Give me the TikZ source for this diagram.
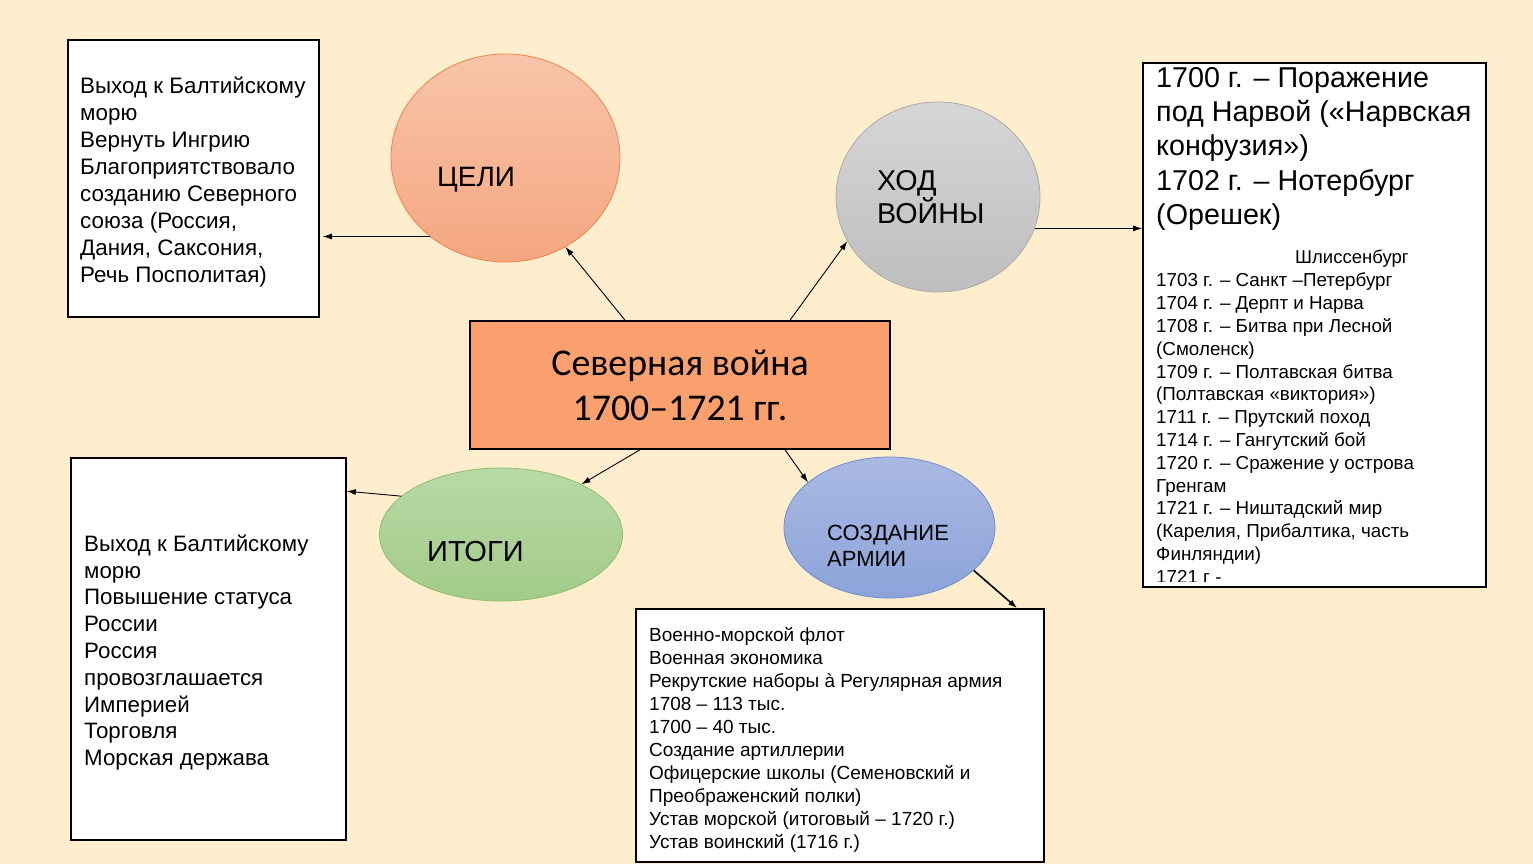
\documentclass[tikz,border=0pt]{standalone}
\usepackage{fontspec}
\setmainfont{Liberation Sans}
\newfontfamily\carlito{Carlito}
\usetikzlibrary{shapes.geometric,arrows.meta}
\definecolor{bg}{RGB}{255,238,206}
\definecolor{celiT}{RGB}{248,196,170}
\definecolor{celiB}{RGB}{245,166,128}
\definecolor{celiD}{RGB}{240,130,70}
\definecolor{hodT}{RGB}{214,214,214}
\definecolor{hodB}{RGB}{190,190,190}
\definecolor{hodD}{RGB}{170,170,170}
\definecolor{itT}{RGB}{184,217,166}
\definecolor{itB}{RGB}{162,203,137}
\definecolor{itD}{RGB}{140,190,110}
\definecolor{szT}{RGB}{170,185,226}
\definecolor{szB}{RGB}{140,163,218}
\definecolor{szD}{RGB}{110,140,210}
\definecolor{mainF}{RGB}{250,160,110}
\newcommand\setfs[2]{\fontsize{#1pt}{#2pt}\selectfont}
\begin{document}
\begin{tikzpicture}[x=1pt,y=-1pt,
  textbox/.style={draw=black,line width=1.6pt,fill=white,inner sep=0pt},
  ell/.style={ellipse,inner sep=0pt,line width=0.8pt},
  txt/.style={anchor=north west,inner sep=0pt,align=left},
  arr/.style={-{Latex[length=9pt,width=6pt]},line width=0.9pt,black}]
\useasboundingbox (0,0) rectangle (1533,864);
\fill[bg] (0,0) rectangle (1533,864);

% boxes
\node[textbox,minimum width=251pt,minimum height=277pt] (box1) at (193.5,178.5) {};
\node[textbox,minimum width=343pt,minimum height=524pt] (box2) at (1314.5,325) {};
\node[textbox,minimum width=275pt,minimum height=382pt] (box3) at (208.5,649) {};
\node[textbox,minimum width=408pt,minimum height=253pt] (box4) at (840,735.5) {};

% main box
\node[draw=black,line width=1.6pt,fill=mainF,minimum width=420pt,minimum height=128pt,
  align=center,inner sep=0pt,font=\carlito\setfs{37.8}{45}] (main) at (680,385)
  {Северная война\\1700–1721 гг.};

% ellipses
\node[ell,minimum width=229pt,minimum height=208pt,top color=celiT,bottom color=celiB,draw=celiD] (celi) at (505.5,158) {};
\node[ell,minimum width=204pt,minimum height=190pt,top color=hodT,bottom color=hodB,draw=hodD] (hod) at (938,197) {};
\node[ell,minimum width=243pt,minimum height=133pt,top color=itT,bottom color=itB,draw=itD] (itogi) at (501,534.5) {};
\node[ell,minimum width=211pt,minimum height=141pt,top color=szT,bottom color=szB,draw=szD] (sozd) at (889.5,527.5) {};

% ellipse labels
\node[txt,font=\setfs{28}{33.3}] (celiT) at (437,158.7) {\rule{0pt}{1em}ЦЕЛИ};
\node[txt,font=\setfs{28.7}{33.3}] (hodT) at (877,161.5) {\rule{0pt}{1em}ХОД\\ВОЙНЫ};
\node[txt,font=\setfs{29}{33}] (itogiT) at (427,532.3) {\rule{0pt}{1em}ИТОГИ};
\node[txt,font=\setfs{22}{26.7}] (sozdT) at (827,518) {\rule{0pt}{1em}СОЗДАНИЕ\\АРМИИ};

% box texts
\node[txt,font=\setfs{22.4}{27}] (box1T) at (80,70.6) {\rule{0pt}{1em}Выход к Балтийскому\\морю\\Вернуть Ингрию\\Благоприятствовало\\созданию Северного\\союза (Россия,\\Дания, Саксония,\\Речь Посполитая)};

\node[txt,font=\setfs{22.3}{26.8}] (box3T) at (84,528.7) {\rule{0pt}{1em}Выход к Балтийскому\\морю\\Повышение статуса\\России\\Россия\\провозглашается\\Империей\\Торговля\\Морская держава};

\node[txt,font=\setfs{19}{23}] (box4T) at (649,621.8) {\rule{0pt}{1em}Военно-морской флот\\Военная экономика\\Рекрутские наборы à Регулярная армия\\1708 – 113 тыс.\\1700 – 40 тыс.\\Создание артиллерии\\Офицерские школы (Семеновский и\\Преображенский полки)\\Устав морской (итоговый – 1720 г.)\\Устав воинский (1716 г.)};

\begin{scope}
\clip ([xshift=1pt,yshift=6pt]box2.south west) rectangle ([xshift=-1pt,yshift=-1pt]box2.north east);
\node[txt,font=\setfs{28.7}{34.3}] (box2A) at (1156,58.3) {\rule{0pt}{1em}1700 г. – Поражение\\под Нарвой («Нарвская\\конфузия»)\\1702 г. – Нотербург\\(Орешек)};
\node[txt,font=\setfs{18.5}{22.8}] (box2B) at (1295,244.5) {\rule{0pt}{1em}Шлиссенбург};
\node[txt,font=\setfs{18.8}{22.8}] (box2C) at (1156,267.9) {\rule{0pt}{1em}1703 г. – Санкт –Петербург\\1704 г. – Дерпт и Нарва\\1708 г. – Битва при Лесной\\(Смоленск)\\1709 г. – Полтавская битва\\(Полтавская «виктория»)\\1711 г. – Прутский поход\\1714 г. – Гангутский бой\\1720 г. – Сражение у острова\\Гренгам\\1721 г. – Ништадский мир\\(Карелия, Прибалтика, часть\\Финляндии)\\1721 г -};
\end{scope}

% connectors
\draw[arr,shorten >=3pt] (celi.226) -- (celi.226 -| box1.east);
\draw[arr] ([xshift=-55pt]main.north) -- (celi.-56);
\draw[arr] ([xshift=110pt]main.north) -- (hod.206);
\draw[arr] (hod.-18) -- (hod.-18 -| box2.west);
\draw[arr] ([xshift=-40pt]main.south) -- (itogi.32);
\draw[arr] (itogi.159) -- ([yshift=-34pt]box3.north east);
\draw[arr] ([xshift=105pt]main.south) -- (sozd.151);
\draw[arr,line width=1.6pt] (sozd.-27) -- ([xshift=382pt]box4.north west);
\end{tikzpicture}
\end{document}
